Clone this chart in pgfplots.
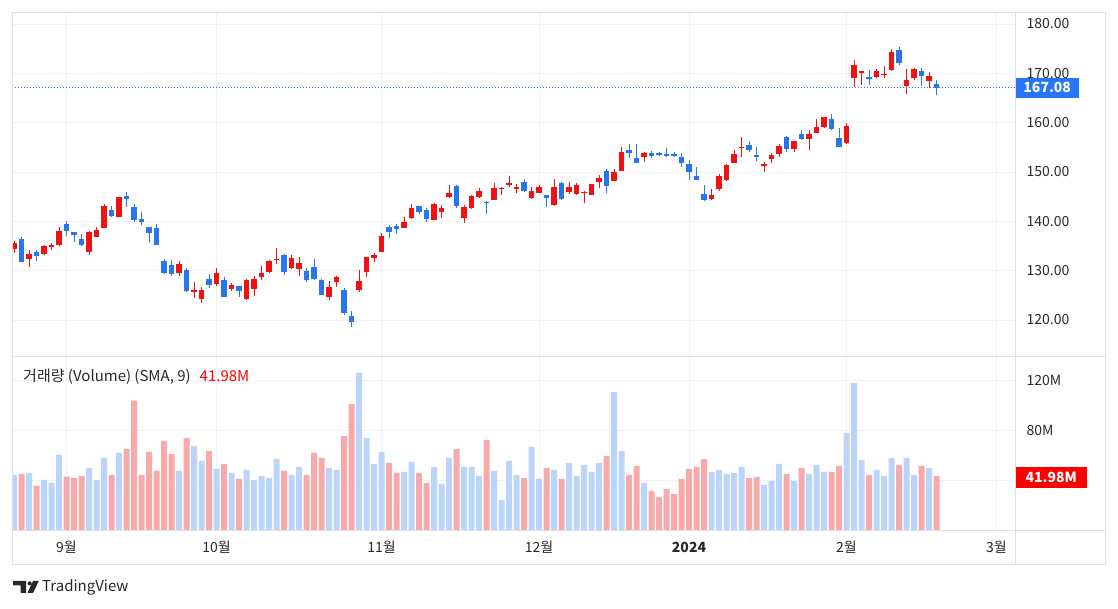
\documentclass[border=0pt]{standalone}
\usepackage{fontspec}
\setmainfont{Noto Sans CJK KR}
\usepackage{pgfplots}
\usepackage{pgfplotstable}
\pgfplotsset{compat=1.18}

\definecolor{tvup}{RGB}{240,18,18}
\definecolor{tvdown}{RGB}{40,118,238}
\definecolor{tvvolup}{RGB}{248,170,170}
\definecolor{tvvoldown}{RGB}{187,212,250}
\definecolor{tvgrid}{RGB}{240,241,245}
\definecolor{tvborder}{RGB}{222,224,230}
\definecolor{tvtext}{RGB}{40,40,40}
\definecolor{tvbox}{RGB}{38,118,245}

% bar index, open, high, low, close, volume (M)
\pgfplotstableread{
i o h l c v
0 134.4 136.0 133.5 135.7 44.0
1 136.5 136.9 131.7 131.8 44.8
2 132.4 134.1 130.8 133.4 45.6
3 133.85 134.2 132.0 133.0 35.2
4 133.3 135.2 133.2 135.0 40.0
5 134.9 135.7 134.1 135.2 37.6
6 135.1 138.9 135.0 138.0 60.0
7 139.5 140.1 137.0 138.0 42.7
8 137.8 137.9 135.9 137.2 41.6
9 136.4 137.4 135.0 135.3 43.2
10 133.85 138.1 133.2 137.9 49.6
11 136.9 138.8 136.8 138.25 40.0
12 138.7 143.6 138.6 143.1 57.6
13 142.3 143.1 140.8 141.15 44.0
14 140.95 145.0 140.9 144.85 61.6
15 145.1 145.95 143.0 144.6 64.8
16 142.8 143.5 139.9 140.3 103.5
17 140.5 141.8 139.3 139.9 44.0
18 138.8 138.9 135.7 137.6 62.4
19 138.6 139.4 135.2 135.3 47.2
20 131.95 132.3 129.4 129.5 71.2
21 131.1 132.2 128.9 129.25 60.8
22 129.45 132.0 128.9 131.35 47.2
23 130.1 130.5 125.6 125.95 73.6
24 125.75 127.6 124.4 126.1 67.2
25 124.2 126.6 123.4 126.1 55.2
26 128.3 129.3 126.55 127.1 63.2
27 127.3 130.5 126.8 129.5 48.8
28 128.1 128.65 124.6 124.7 52.8
29 126.2 127.4 125.95 127.1 45.6
30 126.9 126.95 124.6 125.95 40.8
31 124.2 128.4 124.15 128.1 48.0
32 126.2 128.9 124.9 128.3 40.0
33 128.8 130.9 128.2 129.45 43.2
34 129.8 132.2 129.6 131.95 41.6
35 132.2 134.5 131.35 132.35 56.8
36 133.2 133.3 129.1 129.8 47.2
37 130.6 133.2 130.4 132.5 44.0
38 130.3 132.7 128.9 131.5 50.4
39 129.9 130.6 127.6 128.1 44.0
40 130.7 132.4 128.1 128.3 61.6
41 128.2 128.4 125.0 125.1 57.6
42 124.7 127.9 124.05 126.75 49.6
43 127.8 128.85 126.6 128.8 48.0
44 126.05 126.4 121.0 121.35 75.2
45 120.8 121.8 118.65 119.65 100.8
46 126.1 130.1 125.7 127.9 125.6
47 129.8 132.8 128.8 132.7 73.6
48 132.5 133.6 131.8 133.2 52.8
49 133.85 137.6 133.8 137.0 62.4
50 138.8 139.25 136.7 137.9 53.6
51 139.05 139.45 137.4 138.5 45.6
52 138.7 140.9 138.6 139.8 46.4
53 140.6 143.6 140.5 142.6 54.4
54 143.1 143.15 141.4 141.95 45.6
55 142.2 142.6 139.9 140.5 37.6
56 140.3 143.65 140.2 143.6 50.4
57 141.95 143.3 140.7 142.75 36.8
58 144.9 147.4 144.7 145.8 57.6
59 147.2 147.4 142.8 143.2 64.8
60 140.7 143.3 139.7 143.0 50.4
61 142.6 145.25 142.5 145.2 50.4
62 145.0 146.7 144.7 146.1 43.2
63 143.95 144.05 141.5 143.85 72.0
64 144.3 147.7 144.25 146.7 47.2
65 146.65 147.0 145.3 146.8 24.0
66 147.4 149.2 147.0 147.8 55.2
67 146.7 147.5 145.7 146.85 44.0
68 147.9 148.5 146.0 146.2 41.6
69 144.65 147.0 144.5 146.15 66.4
70 145.8 147.4 145.7 146.9 40.8
71 145.35 145.4 143.0 144.8 49.6
72 143.3 148.5 143.2 146.9 48.0
73 147.7 148.0 144.4 144.5 40.8
74 146.0 148.0 145.5 146.9 53.6
75 145.5 147.7 145.4 147.4 43.2
76 145.7 146.05 143.8 146.0 52.0
77 145.3 147.65 145.25 147.6 46.4
78 147.9 149.4 146.8 148.7 53.6
79 150.1 150.6 145.7 147.2 59.2
80 148.2 150.6 148.1 149.9 110.4
81 150.3 155.0 150.1 154.1 63.2
82 154.45 155.7 152.8 153.8 44.0
83 152.8 155.7 151.75 151.9 51.2
84 153.1 153.95 152.1 153.9 37.6
85 153.9 154.3 152.8 153.3 31.2
86 153.8 154.0 153.3 153.4 26.4
87 153.65 154.8 153.1 153.25 32.8
88 153.65 154.0 153.1 153.4 28.8
89 153.0 153.8 151.1 151.9 40.8
90 151.55 152.4 148.4 149.9 48.8
91 149.2 151.1 148.35 148.4 50.4
92 145.5 147.4 144.2 144.4 56.8
93 144.6 146.5 144.3 145.3 46.4
94 146.6 149.5 146.2 149.2 48.0
95 148.3 151.6 148.2 151.4 44.8
96 151.9 154.5 151.85 153.6 45.6
97 154.95 157.0 153.1 155.1 50.4
98 155.5 156.2 154.1 154.5 41.6
99 153.45 155.1 152.3 153.1 42.4
100 151.3 152.1 150.0 151.6 36.0
101 152.6 153.8 151.9 153.45 39.2
102 153.65 155.6 153.0 155.3 52.8
103 157.0 157.2 154.0 154.7 44.8
104 154.7 156.25 154.0 156.2 39.2
105 157.7 158.5 156.5 156.7 49.6
106 156.7 158.5 154.5 157.7 44.8
107 158.0 160.7 157.8 159.1 52.0
108 159.1 161.2 159.0 161.1 46.4
109 160.75 161.8 158.5 158.7 46.4
110 156.8 158.9 155.0 155.1 51.2
111 155.8 159.9 155.7 159.3 77.6
112 169.0 172.6 167.3 171.7 117.6
113 170.2 170.5 167.6 170.35 56.0
114 169.35 170.7 167.6 168.9 44.0
115 169.3 170.9 169.0 170.5 48.0
116 169.7 171.4 169.0 169.85 43.2
117 170.7 175.0 170.5 174.3 57.6
118 174.7 175.4 171.6 172.0 52.0
119 167.5 170.9 165.75 168.65 57.6
120 169.0 171.0 168.65 170.9 44.0
121 170.5 171.0 167.5 169.5 51.2
122 168.5 170.2 167.0 169.5 49.6
123 167.8 168.7 165.6 167.08 43.2
}\candles

\pgfplotsset{
  tvbase/.style={
    scale only axis, width=1003pt,
    xmin=-0.267, xmax=133.467,
    axis line style={draw=tvborder},
    xtick={7,27,49,70,90,111,131},
    xmajorgrids, ymajorgrids,
    grid style={draw=tvgrid, line width=0.8pt},
    major tick length=0pt,
    yticklabel pos=right,
    yticklabel style={anchor=west, xshift=8pt, text=tvtext,
      font=\fontsize{14}{16}\selectfont},
    clip mode=individual,
  },
  wick/.style={draw=none, mark=none, forget plot,
    error bars/.cd, y dir=both, y explicit, error mark=none,
    error bar style={draw=#1, solid, line width=1pt}},
  body/.style={draw=none, mark=none, forget plot,
    error bars/.cd, y dir=both, y explicit, error mark=none,
    error bar style={draw=#1, solid, line width=5.6pt}},
  isup/.style={restrict expr to domain={\thisrow{c}-\thisrow{o}}{0:100}},
  isdown/.style={restrict expr to domain={\thisrow{o}-\thisrow{c}}{0.0001:100}},
}

\begin{document}
\begin{tikzpicture}
\useasboundingbox (0,0) rectangle (1118pt,609pt);

% price panel
\begin{axis}[tvbase, at={(12pt,253pt)}, anchor=south west, height=344pt,
  ymin=112.70, ymax=182.43,
  ytick={120,130,...,180},
  yticklabels={120.00,130.00,140.00,150.00,160.00,170.00,180.00},
  xticklabels={}]
\addplot[isup, wick=tvup] table[x=i, y expr={(\thisrow{h}+\thisrow{l})/2},
  y error expr={(\thisrow{h}-\thisrow{l})/2}] \candles;
\addplot[isdown, wick=tvdown] table[x=i, y expr={(\thisrow{h}+\thisrow{l})/2},
  y error expr={(\thisrow{h}-\thisrow{l})/2}] \candles;
\addplot[isup, body=tvup] table[x=i, y expr={(\thisrow{o}+\thisrow{c})/2},
  y error expr={max(abs(\thisrow{c}-\thisrow{o})/2,0.11)}] \candles;
\addplot[isdown, body=tvdown] table[x=i, y expr={(\thisrow{o}+\thisrow{c})/2},
  y error expr={max(abs(\thisrow{c}-\thisrow{o})/2,0.11)}] \candles;
% last price line
\addplot[tvbox, line width=0.8pt, dash pattern=on 1pt off 2pt, mark=none, forget plot]
  coordinates {(-0.3,167.08) (133.467,167.08)};
\node[fill=tvbox, text=white, anchor=west, inner xsep=4pt, minimum height=20pt,
  minimum width=64pt, font=\fontsize{14}{16}\selectfont\bfseries]
  at (axis cs:133.467,167.08) {167.08};
\end{axis}

% volume panel
\begin{axis}[tvbase, at={(12pt,79pt)}, anchor=south west, height=174pt,
  ymin=0, ymax=139.2,
  ytick={40,80,120}, yticklabels={,80M,120M},
  xticklabels={9월,10월,11월,12월,\textbf{2024},2월,3월},
  xticklabel style={anchor=center, yshift=-17pt, text=tvtext,
    font=\fontsize{14}{16}\selectfont}]
\addplot[isup, ybar, bar width=6pt, bar shift=0pt, fill=tvvoldown, draw=none]
  table[x=i, y=v] \candles;
\addplot[isdown, ybar, bar width=6pt, bar shift=0pt, fill=tvvolup, draw=none]
  table[x=i, y=v] \candles;
\node[fill=red, text=white, anchor=west, minimum height=21pt, minimum width=72pt,
  font=\fontsize{14}{16}\selectfont\bfseries]
  at (axis cs:133.467,41.98) {41.98M};
\end{axis}

% panel frame
\draw[tvborder, line width=0.8pt] (12pt,45pt) rectangle (1105pt,597pt);
\draw[tvborder, line width=0.8pt] (1015pt,45pt) -- (1015pt,597pt);
\draw[tvborder, line width=0.8pt] (12pt,253pt) -- (1105pt,253pt);
\draw[tvborder, line width=0.8pt] (12pt,79pt) -- (1105pt,79pt);

% volume legend
\node[anchor=west, text=tvtext, font=\fontsize{15}{17}\selectfont, inner sep=0pt]
  at (23pt,232pt) {거래량 (Volume) (SMA, 9)\hspace{9pt}\textcolor{red}{41.98M}};

% TradingView logo
\fill[tvtext] (13pt,28pt) -- (26pt,28pt) -- (26pt,16pt) -- (20.5pt,16pt)
  -- (20.5pt,23.5pt) -- (13pt,23.5pt) -- cycle;
\fill[tvtext] (29.6pt,25.6pt) circle (2.1pt);
\fill[tvtext] (33pt,28pt) -- (38.8pt,28pt) -- (33pt,16pt) -- (27.4pt,16pt) -- cycle;
\node[anchor=west, text=tvtext, font=\fontsize{15}{17}\selectfont, inner sep=0pt]
  at (42pt,22pt) {TradingView};
\end{tikzpicture}
\end{document}
